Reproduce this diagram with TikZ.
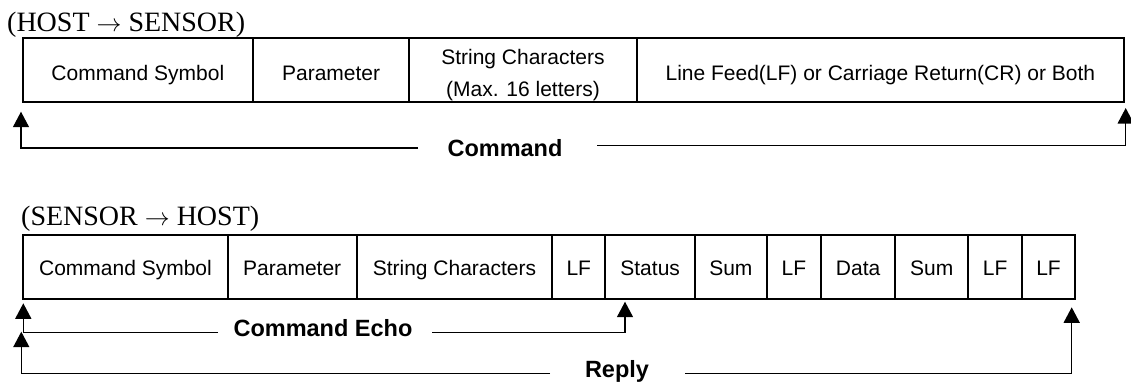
\documentclass[tikz,border=0pt]{standalone}
\usepackage{fontspec}
\setmainfont{Liberation Serif}
\newfontfamily\arial{Liberation Sans}
\usetikzlibrary{arrows.meta,calc}
\tikzset{
  cellbox/.style={draw, line width=1.8pt, minimum height=64pt, inner sep=0pt,
    font=\arial\fontsize{21}{32}\selectfont, text depth=0pt},
  cellT/.style={cellbox, text height=19.4pt},
  cellB/.style={cellbox, text height=16pt},
  conn/.style={line width=1.5pt, -{Triangle[length=15.5pt,width=16pt]}},
  lbl/.style={font=\arial\bfseries\fontsize{23.5}{28}\selectfont, inner sep=0pt, anchor=base},
  ttl/.style={font=\fontsize{28}{32}\selectfont, inner sep=0pt, anchor=base west},
}
\begin{document}
\begin{tikzpicture}[x=1pt,y=-1pt]
\useasboundingbox (0,0) rectangle (1131,383);
% ---------- HOST -> SENSOR ----------
\node[ttl] (title1) at (7,31) {(HOST $\rightarrow$ SENSOR)};
\node[cellT, minimum width=230.3pt] (t1) at (137.85,70.3) {Command Symbol};
\node[cellT, minimum width=156.3pt] (t2) at (331.15,70.3) {Parameter};
\node[cellbox, minimum width=227.4pt] (t3) at (523,70.3) {};
\node[font=\arial\fontsize{21}{32}\selectfont, align=center, inner sep=0pt, anchor=north] (t3txt) at (523,48.6) {String Characters\\(Max. 16 letters)};
\node[cellT, minimum width=487.3pt] (t4) at (880.35,70.3) {Line Feed(LF) or Carriage Return(CR) or Both};
\node[lbl] (cmd) at (505,156.7) {Command};
\coordinate (cmdLe) at (418,148);
\coordinate (cmdRs) at (597,145.5);
\coordinate (cmdLtip) at (21,111.7);
\coordinate (cmdRtip) at (1125.7,108);
\draw[conn] (cmdLe) -| (cmdLtip);
\draw[conn] (cmdRs) -| (cmdRtip);
% ---------- SENSOR -> HOST ----------
\node[ttl] (title2) at (21,225) {(SENSOR $\rightarrow$ HOST)};
\node[cellB, minimum width=204.4pt] (b1) at (125.5,267) {Command Symbol};
\node[cellB, minimum width=129pt] (b2) at (292.2,267) {Parameter};
\node[cellB, minimum width=195.6pt] (b3) at (454.5,267) {String Characters};
\node[cellB, minimum width=53pt] (b4) at (578.8,267) {LF};
\node[cellB, minimum width=89.7pt] (b5) at (650.15,267) {Status};
\node[cellB, minimum width=71.7pt] (b6) at (730.85,267) {Sum};
\node[cellB, minimum width=54.3pt] (b7) at (793.85,267) {LF};
\node[cellB, minimum width=74.3pt] (b8) at (858.15,267) {Data};
\node[cellB, minimum width=73pt] (b9) at (931.8,267) {Sum};
\node[cellB, minimum width=53.7pt] (b10) at (995.15,267) {LF};
\node[cellB, minimum width=53pt] (b11) at (1048.5,267) {LF};
% Command Echo
\node[lbl] (echo) at (323,336.7) {Command Echo};
\coordinate (echoLe) at (218,332.3);
\coordinate (echoRs) at (432,332.3);
\coordinate (echoLtip) at (23.3,303.3);
\coordinate (echoRtip) at (625,301.7);
\draw[conn] (echoLe) -| (echoLtip);
\draw[conn] (echoRs) -| (echoRtip);
% Reply
\node[lbl] (reply) at (617,377.3) {Reply};
\coordinate (replyLe) at (550,373.3);
\coordinate (replyRs) at (685,373.3);
\coordinate (replyLtip) at (21.3,331.7);
\coordinate (replyRtip) at (1071.7,307.3);
\draw[conn] (replyLe) -| (replyLtip);
\draw[conn] (replyRs) -| (replyRtip);
\end{tikzpicture}
\end{document}
